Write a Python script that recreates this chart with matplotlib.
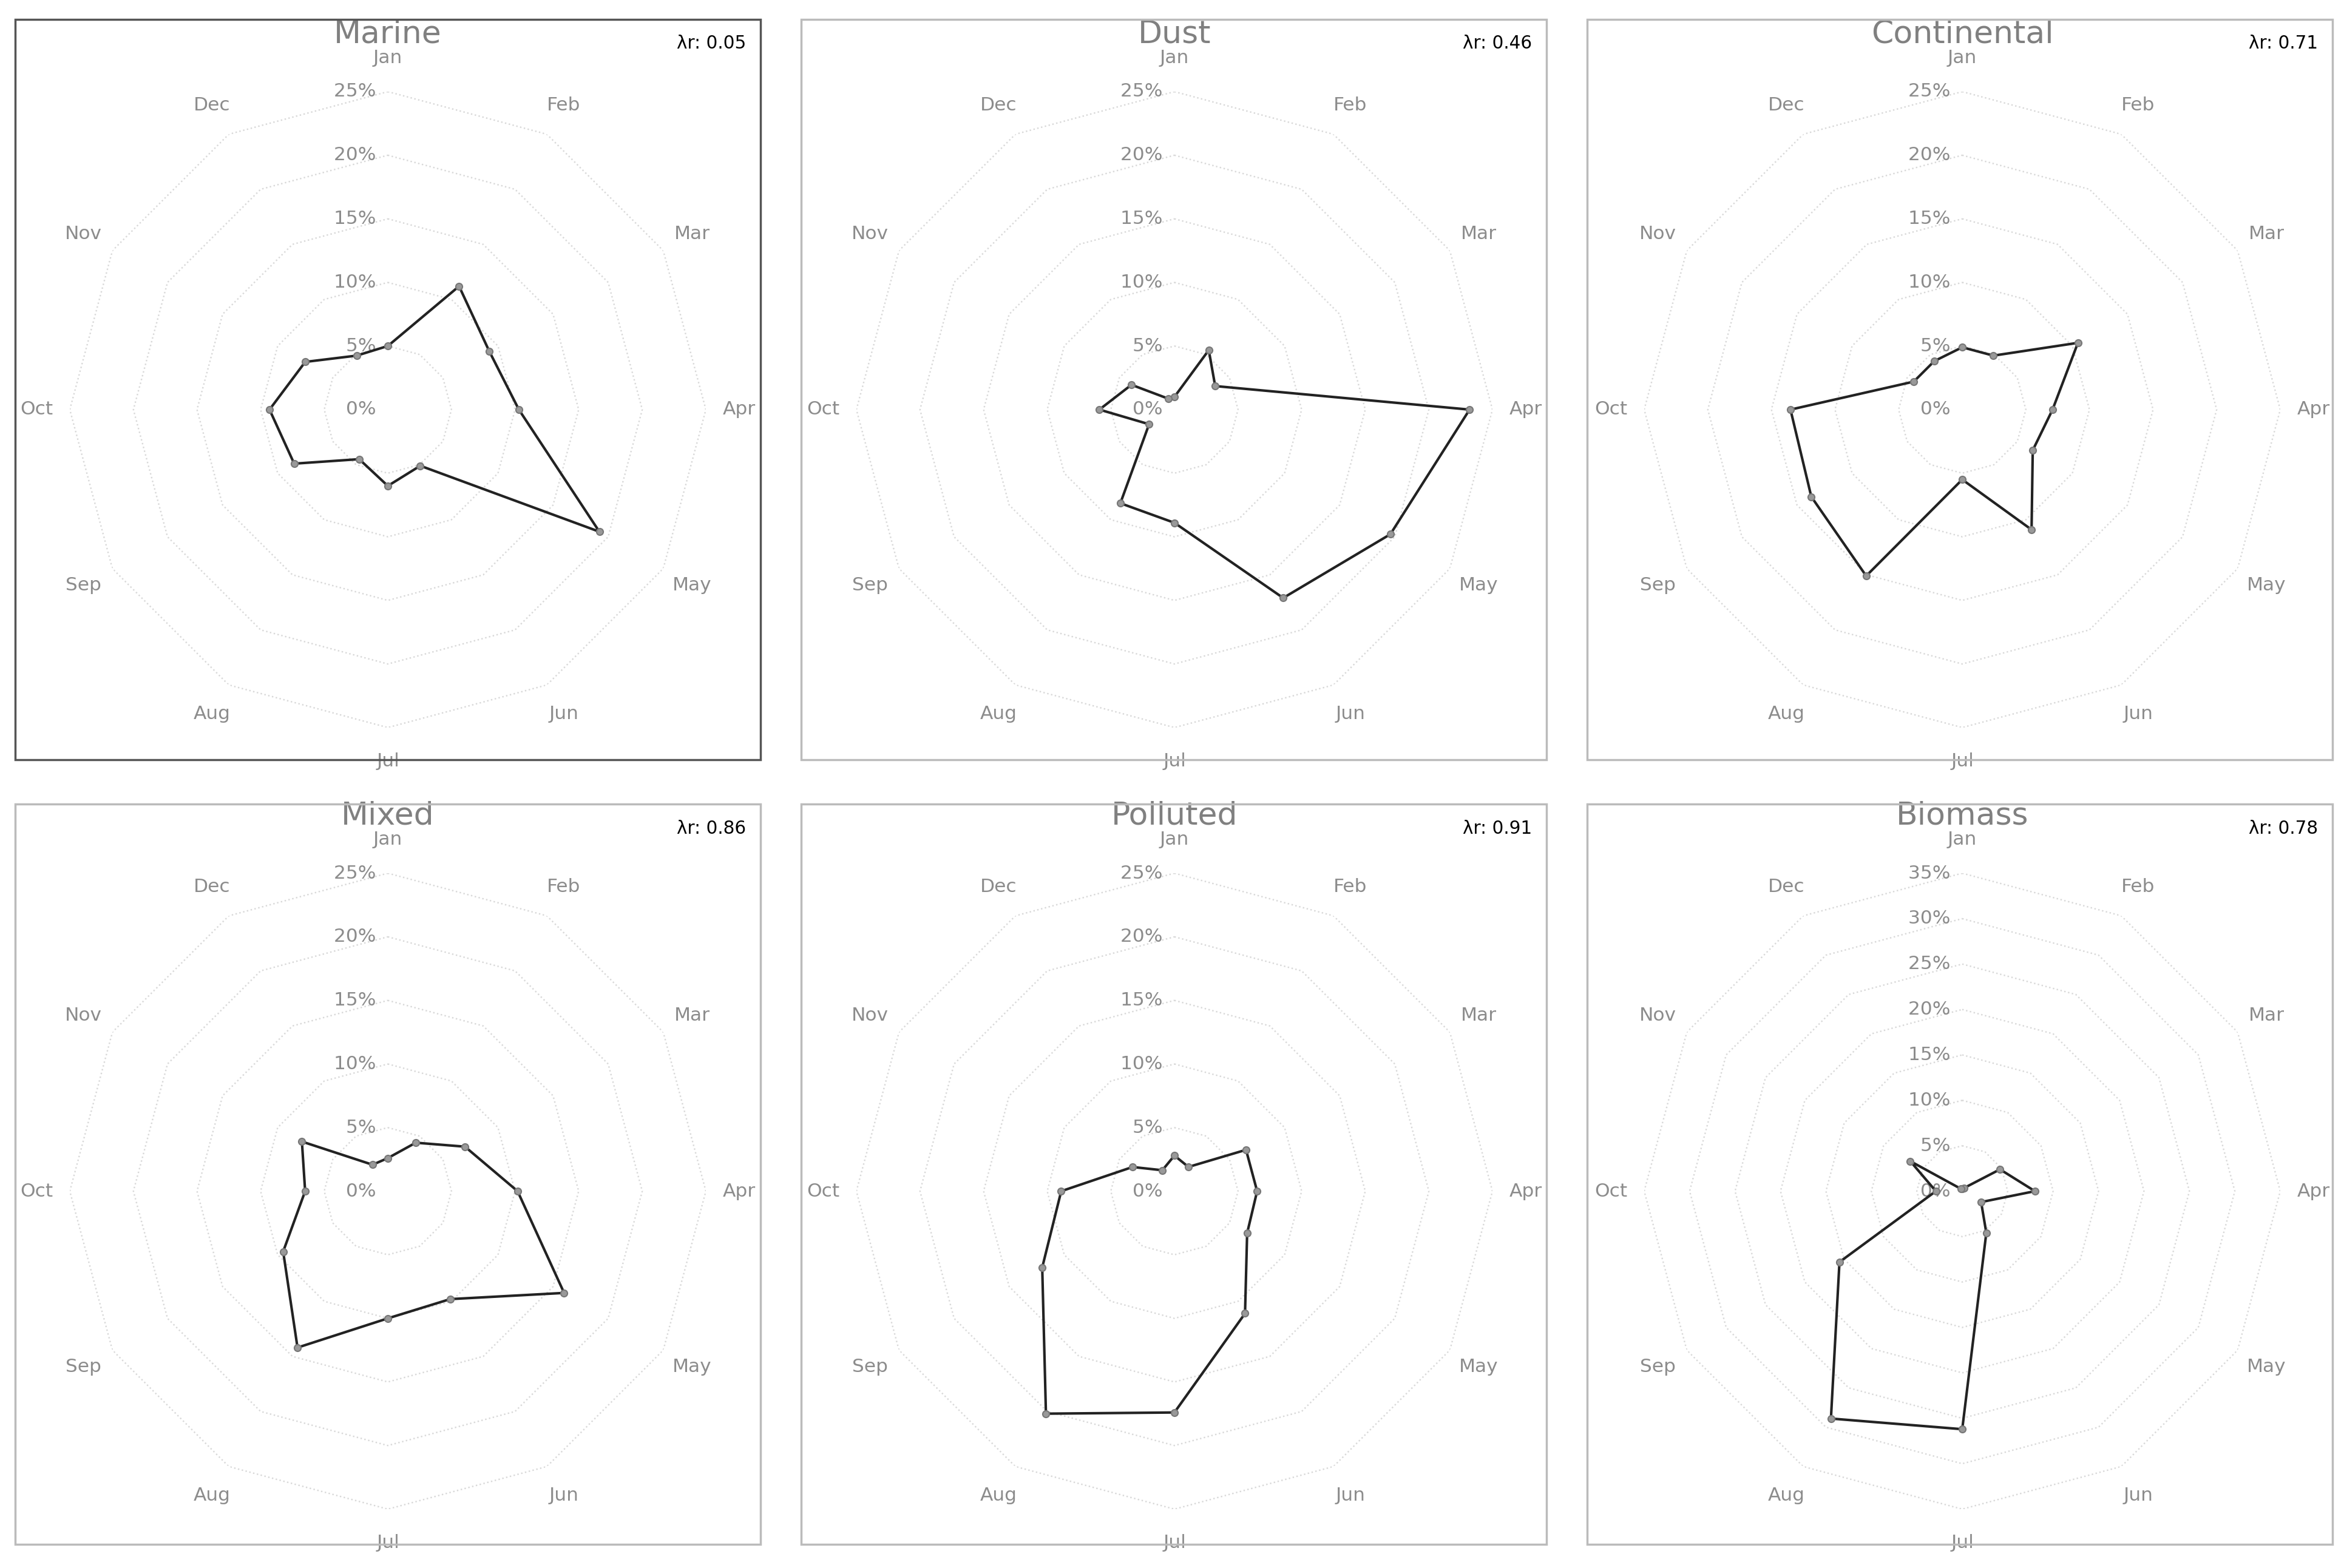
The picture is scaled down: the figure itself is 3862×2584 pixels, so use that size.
import numpy as np
import matplotlib
matplotlib.use("Agg")
import matplotlib.pyplot as plt
from matplotlib.patches import Rectangle

MONTHS = ["Jan", "Feb", "Mar", "Apr", "May", "Jun",
          "Jul", "Aug", "Sep", "Oct", "Nov", "Dec"]

TITLES = ["Marine", "Dust", "Continental", "Mixed", "Polluted", "Biomass"]
LAMBDA_R = ["0.05", "0.46", "0.71", "0.86", "0.91", "0.78"]
RMAX = [25, 25, 25, 25, 25, 35]

marine = [5.0, 11.2, 9.2, 10.3, 19.2, 5.1, 6.0, 4.5, 8.5, 9.3, 7.5, 4.9]
dust = [1.0, 5.4, 3.7, 23.2, 19.6, 17.1, 8.9, 8.5, 2.3, 5.9, 3.9, 1.0]
continental = [4.9, 4.9, 10.5, 7.1, 6.4, 10.9, 5.5, 15.1, 13.7, 13.5, 4.4, 4.4]
mixed = [2.6, 4.4, 7.0, 10.2, 16.0, 9.8, 10.0, 14.2, 9.5, 6.5, 7.8, 2.4]
polluted = [2.8, 2.2, 6.5, 6.5, 6.6, 11.1, 17.4, 20.2, 12.0, 8.9, 3.8, 1.9]
biomass = [0.3, 0.4, 4.8, 8.0, 2.4, 5.3, 26.2, 28.9, 15.6, 2.9, 6.6, 0.3]
SERIES = [marine, dust, continental, mixed, polluted, biomass]

W, H = 3862, 2584
fig = plt.figure(figsize=(W / 250, H / 250), dpi=250)
fig.patch.set_facecolor("white")

col_x = [639, 1935, 3233]
row_y = [675, 1963]
box_left = [25, 1320, 2615]
box_top = [32, 1325]
box_w, box_h = 1228, 1220
radius_px = 524

theta = np.linspace(0, 2 * np.pi, 12, endpoint=False)
theta_closed = np.append(theta, theta[0])

for i, (title, lam, rmax, vals) in enumerate(zip(TITLES, LAMBDA_R, RMAX, SERIES)):
    r, c = divmod(i, 3)
    # panel box
    bx, by = box_left[c], box_top[r]
    edge = "#555555" if i == 0 else "#bbbbbb"
    fig.patches.append(Rectangle((bx / W, 1 - (by + box_h) / H), box_w / W, box_h / H,
                                 transform=fig.transFigure, fill=False,
                                 edgecolor=edge, linewidth=1.0))
    fig.text((bx + box_w - 24) / W, 1 - (by + 40) / H, f"λr: {lam}",
             ha="right", va="center", fontsize=8.5, color="black")

    cx, cy = col_x[c], row_y[r]
    ax = fig.add_axes([(cx - radius_px) / W, 1 - (cy + radius_px) / H,
                       2 * radius_px / W, 2 * radius_px / H], projection="polar")
    ax.set_theta_zero_location("N")
    ax.set_theta_direction(-1)
    ax.set_ylim(0, rmax)
    ax.grid(False)
    ax.set_xticks([])
    ax.set_yticks([])
    ax.spines["polar"].set_visible(False)
    ax.set_facecolor("none")

    for ring in range(5, rmax + 1, 5):
        ax.plot(theta_closed, [ring] * 13, color="#d9d9d9", linestyle=":",
                linewidth=0.7, zorder=1)
    for ring in range(0, rmax + 1, 5):
        ax.text(0, ring, f"{ring}%  ", ha="right", va="center",
                fontsize=9, color="#8c8c8c", zorder=2)
    for t, m in zip(theta, MONTHS):
        ax.text(t, rmax * 1.105, m, ha="center", va="center",
                fontsize=9, color="#8c8c8c")
    ax.text(0, rmax * 1.18, title, ha="center", va="center",
            fontsize=15, color="#808080")

    v = np.append(vals, vals[0])
    ax.plot(theta_closed, v, color="#222222", linewidth=1.2, zorder=3)
    ax.plot(theta, vals, linestyle="none", marker="o", markersize=3.2,
            markerfacecolor="#999999", markeredgecolor="#777777",
            markeredgewidth=0.6, zorder=4)

fig.savefig("out.png", dpi=250)
